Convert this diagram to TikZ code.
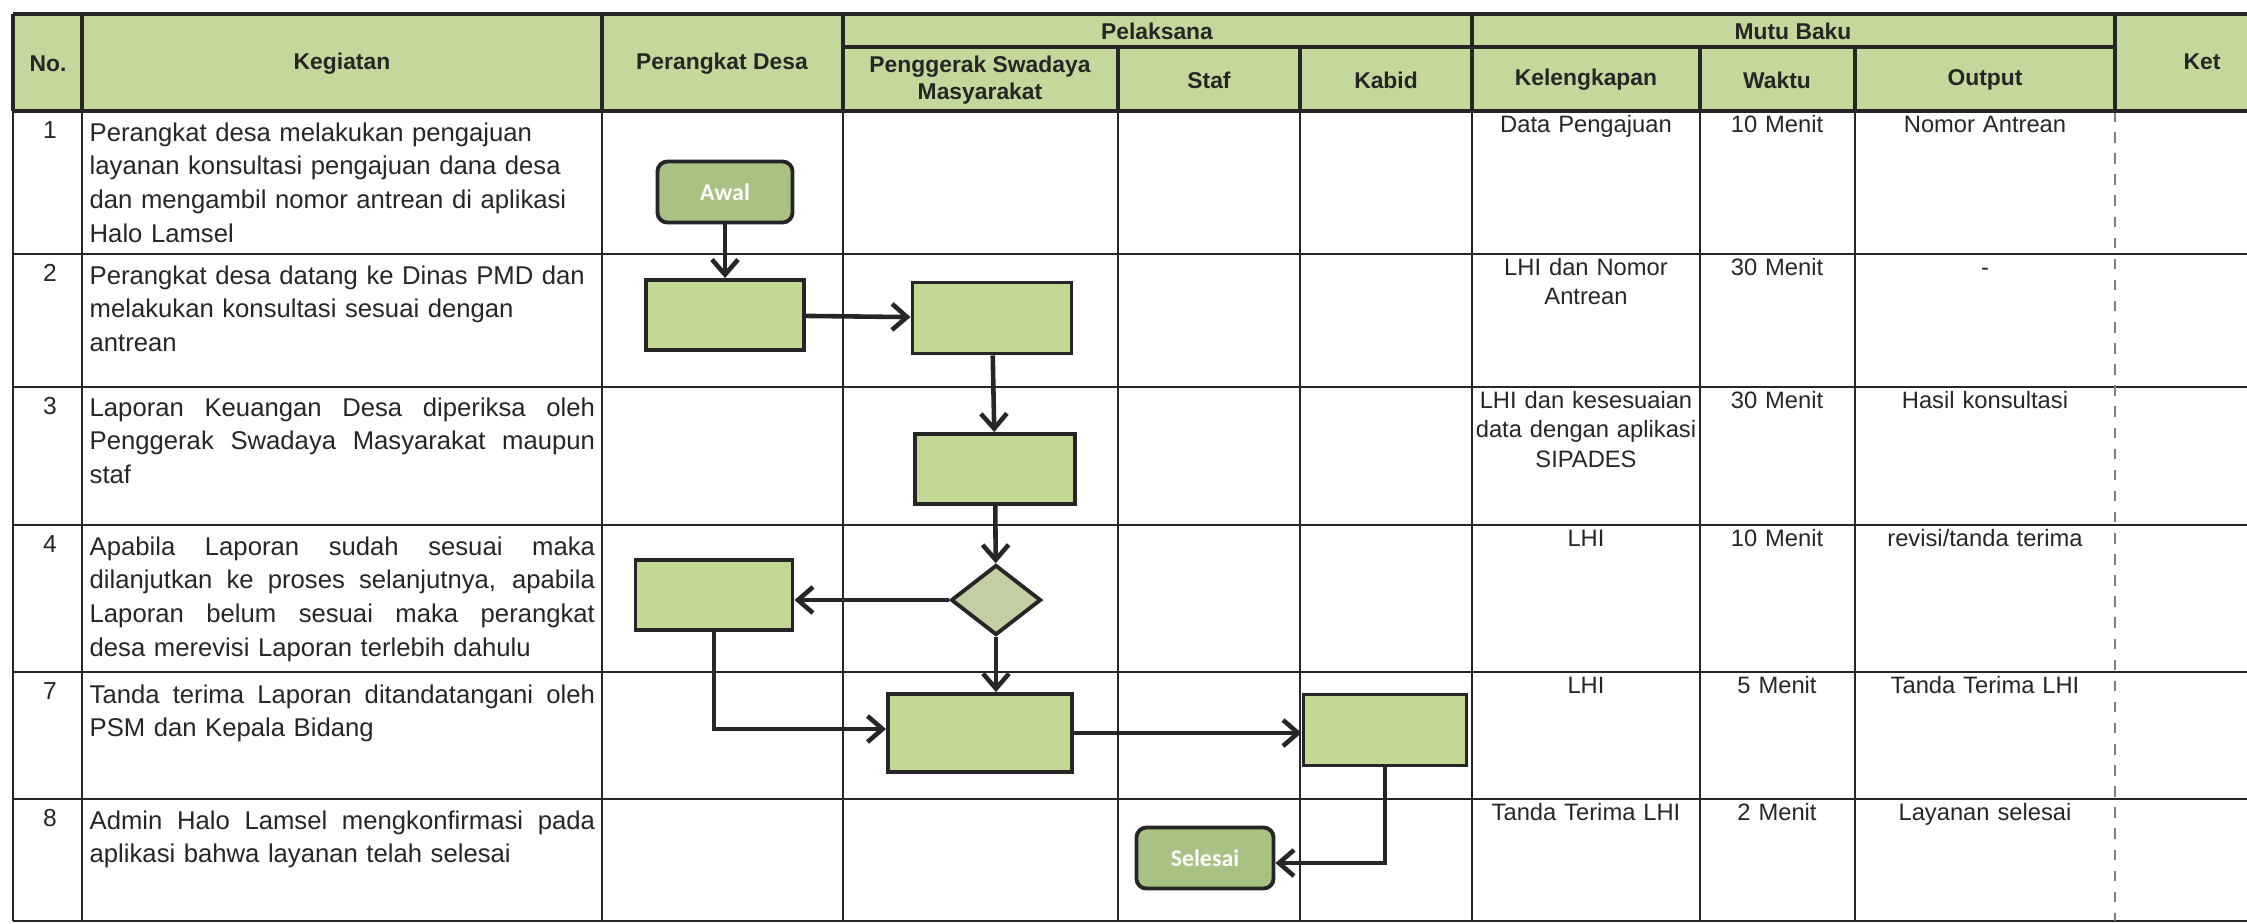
\documentclass[tikz,border=0pt]{standalone}
\usepackage{fontspec}
\setmainfont{Liberation Sans}
\newfontfamily\boxfont{Carlito}
\usetikzlibrary{arrows.meta,shapes.geometric}

\definecolor{headgreen}{HTML}{C5D89B}
\definecolor{boxgreen}{HTML}{C4D896}
\definecolor{termgreen}{HTML}{A7C283}
\definecolor{diagreen}{HTML}{C3CEA3}
\definecolor{ink}{HTML}{262626}

% one justified line of a Kegiatan cell
\newcommand{\jl}[1]{\hbox to \hsize{\spaceskip=0.25em plus 1fil\relax #1}}

\tikzset{
  grid/.style={draw=ink, line width=0.8pt},
  headline/.style={draw=ink, line width=1.1pt},
  head/.style={font=\fontsize{6.5}{7.8}\selectfont\bfseries, text=ink, align=center, inner sep=0},
  kegiatan/.style={font=\fontsize{7.3}{9.6}\selectfont, text=ink, anchor=base west,
    text width=5.05cm, align=left, inner sep=0},
  nomor/.style={font=\fontsize{7}{9}\selectfont, text=ink, anchor=base, inner sep=0},
  mutu/.style={font=\fontsize{6.75}{8.5}\selectfont, text=ink, anchor=base,
    text width=#1, align=center, inner sep=0},
  proc/.style={draw=ink, line width=1.1pt, fill=boxgreen},
  term/.style={proc, rounded corners=1mm, fill=termgreen, text=white,
    font=\boxfont\bfseries\fontsize{6.8}{8}\selectfont},
  decision/.style={proc, diamond, fill=diagreen, inner sep=0},
  flow/.style={draw=ink, line width=1.3pt, -{Straight Barb[length=1.5mm,width=2.6mm]}},
}

\begin{document}
\begin{tikzpicture}[x=0.01cm, y=-0.01cm]
  \useasboundingbox (0,0) rectangle (2247,923);

  % header background
  \fill[headgreen] (13,14) rectangle (2247,111);

  % body grid
  \foreach \y in {254,387,525,672,799,921}
    \draw[grid] (13,\y) -- (2247,\y);
  \foreach \x in {13,82,602,843,1118,1300,1472,1700,1855}
    \draw[grid] (\x,111) -- (\x,921);
  \draw[gray, dashed, line width=0.4pt] (2115,111) -- (2115,921);

  % header frame
  \draw[headline] (13,14) -- (2247,14) (13,111) -- (2247,111);
  \draw[headline] (843,47) -- (2115,47);
  \foreach \x in {13,82,602,843,1472,2115}
    \draw[headline] (\x,14) -- (\x,111);
  \foreach \x in {1118,1300,1700,1855}
    \draw[headline] (\x,47) -- (\x,111);

  % header labels
  \node[head] (hno) at (48,64) {No.};
  \node[head] (hkeg) at (342,64) {Kegiatan};
  \node[head] (hpd) at (722,64) {Perangkat Desa};
  \node[head] (hpel) at (1157,31) {Pelaksana};
  \node[head] (hpsm) at (980,80) {Penggerak Swadaya\\Masyarakat};
  \node[head] (hstaf) at (1209,80) {Staf};
  \node[head] (hkabid) at (1386,80) {Kabid};
  \node[head] (hmutu) at (1793,31) {Mutu Baku};
  \node[head] (hlkp) at (1586,80) {Kelengkapan};
  \node[head] (hwkt) at (1777,80) {Waktu};
  \node[head] (hout) at (1985,80) {Output};
  \node[head] (hket) at (2202,62) {Ket};

  % number, kelengkapan, waktu, output per row
  \foreach \i/\top/\lkp/\wkt/\outp in {
      1/111/{Data Pengajuan}/{10 Menit}/{Nomor Antrean},
      2/254/{LHI dan Nomor\\Antrean}/{30 Menit}/{-},
      3/387/{LHI dan kesesuaian\\data dengan aplikasi\\SIPADES}/{30 Menit}/{Hasil konsultasi},
      4/525/{LHI}/{10 Menit}/{revisi/tanda terima},
      7/672/{LHI}/{5 Menit}/{Tanda Terima LHI},
      8/799/{Tanda Terima LHI}/{2 Menit}/{Layanan selesai}} {
    \node[nomor] (no\i) at (50,\top+27) {\i};
    \node[mutu=2.26cm] (lkp\i) at (1586,\top+21) {\lkp};
    \node[mutu=1.5cm] (wkt\i) at (1777,\top+21) {\wkt};
    \node[mutu=2.5cm] (out\i) at (1985,\top+21) {\outp};
  }

  % kegiatan
  \node[kegiatan] (keg1) at (89,141) {Perangkat desa melakukan pengajuan\\
    layanan konsultasi pengajuan dana desa\\
    dan mengambil nomor antrean di aplikasi\\
    Halo Lamsel};
  \node[kegiatan] (keg2) at (89,284) {Perangkat desa datang ke Dinas PMD dan\\
    melakukan konsultasi sesuai dengan\\
    antrean};
  \node[kegiatan] (keg3) at (89,416) {\jl{Laporan Keuangan Desa diperiksa oleh}
    \jl{Penggerak Swadaya Masyarakat maupun}
    staf};
  \node[kegiatan] (keg4) at (89,555) {\jl{Apabila Laporan sudah sesuai maka}
    \jl{dilanjutkan ke proses selanjutnya, apabila}
    \jl{Laporan belum sesuai maka perangkat}
    desa merevisi Laporan terlebih dahulu};
  \node[kegiatan] (keg7) at (89,703) {\jl{Tanda terima Laporan ditandatangani oleh}
    PSM dan Kepala Bidang};
  \node[kegiatan] (keg8) at (89,829) {\jl{Admin Halo Lamsel mengkonfirmasi pada}
    aplikasi bahwa layanan telah selesai};

  % flow shapes
  \node[term, minimum width=1.35cm, minimum height=0.61cm] (awal) at (725,192) {Awal};
  \node[proc, minimum width=1.58cm, minimum height=0.70cm] (ajukan) at (725,315) {};
  \node[proc, minimum width=1.59cm, minimum height=0.71cm] (konsul) at (992,318) {};
  \node[proc, minimum width=1.60cm, minimum height=0.70cm] (periksa) at (995,469) {};
  \node[decision, minimum width=0.90cm, minimum height=0.70cm] (sesuai) at (996,600) {};
  \node[proc, minimum width=1.57cm, minimum height=0.70cm] (revisi) at (714,595) {};
  \node[proc, minimum width=1.84cm, minimum height=0.78cm] (ttdpsm) at (980,733) {};
  \node[proc, minimum width=1.63cm, minimum height=0.71cm] (ttdkabid) at (1385,730) {};
  \node[term, minimum width=1.37cm, minimum height=0.61cm] (selesai) at (1205,858) {Selesai};

  % connectors
  \draw[flow] (awal) -- (ajukan);
  \draw[flow] (ajukan) -- (konsul);
  \draw[flow] (konsul) -- (periksa);
  \draw[flow] (periksa) -- (sesuai);
  \draw[flow] (sesuai.west) -- (sesuai.west -| revisi.east);
  \draw[flow] (sesuai.south) -- (sesuai.south |- ttdpsm.north);
  \draw[flow] (revisi.south) |- ([yshift=0.4mm]ttdpsm.west);
  \draw[flow] (ttdpsm.east) -- (ttdpsm.east -| ttdkabid.west);
  \draw[flow] (ttdkabid.south) |- ([yshift=-0.5mm]selesai.east);
\end{tikzpicture}
\end{document}
